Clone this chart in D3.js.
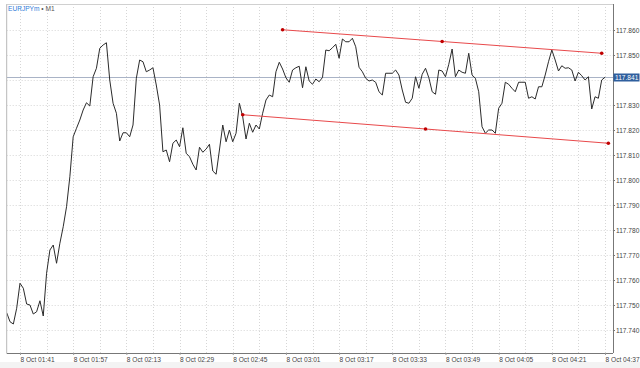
<!DOCTYPE html>
<html><head><meta charset="utf-8">
<script src="https://cdn.jsdelivr.net/npm/d3@7/dist/d3.min.js"></script>
<style>
html,body{margin:0;padding:0;background:#fff;}
svg{display:block;font-family:"Liberation Sans",Arial,sans-serif;}
</style></head>
<body><svg id="c" width="640" height="368"></svg>
<script>
// ---- data ----
const symbolName = "EURJPYm";
const timeframe = "M1";
const startTime = "2020-10-08 01:37"; // first one-minute bar
const closes = [
117.7469,117.7433,117.7424,117.7487,117.7587,117.7567,117.7504,117.7500,117.7464,117.7473,
117.7517,117.7456,117.7627,117.7720,117.7740,117.7667,117.7747,117.7813,117.7893,117.8013,
117.8173,117.8207,117.8240,117.8280,117.8309,117.8296,117.8413,117.8447,117.8527,117.8540,
117.8549,117.8400,117.8307,117.8267,117.8156,117.8189,117.8189,117.8173,117.8220,117.8407,
117.8480,117.8473,117.8433,117.8440,117.8449,117.8380,117.8300,117.8113,117.8120,117.8073,
117.8147,117.8160,117.8133,117.8209,117.8107,117.8093,117.8063,117.8040,117.8131,117.8111,
117.8124,117.8143,117.8036,117.8023,117.8120,117.8220,117.8153,117.8200,117.8153,117.8187,
117.8307,117.8253,117.8164,117.8227,117.8191,117.8220,117.8204,117.8267,117.8320,117.8340,
117.8333,117.8433,117.8471,117.8444,117.8409,117.8391,117.8440,117.8449,117.8455,117.8369,
117.8453,117.8396,117.8383,117.8404,117.8393,117.8410,117.8520,117.8517,117.8529,117.8543,
117.8487,117.8564,117.8553,117.8553,117.8567,117.8533,117.8451,117.8433,117.8407,117.8396,
117.8400,117.8391,117.8353,117.8340,117.8427,117.8427,117.8427,117.8440,117.8420,117.8360,
117.8311,117.8307,117.8327,117.8413,117.8367,117.8423,117.8447,117.8409,117.8353,117.8343,
117.8440,117.8436,117.8413,117.8463,117.8524,117.8413,117.8440,117.8431,117.8427,117.8507,
117.8420,117.8407,117.8353,117.8213,117.8187,117.8200,117.8200,117.8187,117.8287,117.8307,
117.8391,117.8383,117.8367,117.8353,117.8391,117.8391,117.8391,117.8327,117.8333,117.8324,
117.8373,117.8373,117.8420,117.8473,117.8520,117.8480,117.8436,117.8457,117.8447,117.8449,
117.8440,117.8396,117.8431,117.8417,117.8400,117.8413,117.8284,117.8333,117.8327,117.8400,
117.8411
];
const currentPrice = 117.841;
const priceTicks = [117.740,117.750,117.760,117.770,117.780,117.790,117.800,117.810,117.820,117.830,117.840,117.850,117.860];
const timeLabels = ["01:41","01:57","02:13","02:29","02:45","03:01","03:17","03:33","03:49","04:05","04:21","04:37"];
const trendUpper = [{time:"03:00",price:117.8601},{time:"04:36",price:117.8507}];
const trendLower = [{time:"02:48",price:117.8261},{time:"04:38",price:117.8147}];

// ---- layout ----
const W=640,H=368;
const plot={left:6.7,right:613,top:4,bottom:353};
const parse=d3.timeParse("%Y-%m-%d %H:%M");
const t0=parse(startTime);
const at=s=>parse("2020-10-08 "+s);
const series=closes.map((v,i)=>({t:d3.timeMinute.offset(t0,i),v}));

const x=d3.scaleTime().domain([t0,d3.timeSecond.offset(at("04:39"),24)]).range([plot.left,plot.right]);
const y=d3.scaleLinear().domain([117.740,117.860]).range([330,30]);

const svg=d3.select("#c");
svg.append("rect").attr("width",W).attr("height",H).attr("fill","#fff");
svg.append("rect").attr("x",0).attr("y",362).attr("width",W).attr("height",6).attr("fill","#f3f3f3");

svg.append("defs").append("clipPath").attr("id","clip").append("rect")
  .attr("x",plot.left).attr("y",plot.top).attr("width",plot.right-plot.left).attr("height",plot.bottom-plot.top);

// grid
const gridTimes=d3.range(0,23).map(k=>d3.timeMinute.offset(at("01:41"),8*k));
const g=svg.append("g").attr("clip-path","url(#clip)");
g.selectAll(".vg").data(gridTimes).join("line")
  .attr("x1",d=>Math.round(x(d))+0.5).attr("x2",d=>Math.round(x(d))+0.5)
  .attr("y1",plot.top).attr("y2",plot.bottom)
  .attr("stroke","#d6d6d6").attr("stroke-dasharray","1,2");
g.selectAll(".hg").data(priceTicks).join("line")
  .attr("x1",plot.left).attr("x2",plot.right)
  .attr("y1",d=>Math.round(y(d))+0.5).attr("y2",d=>Math.round(y(d))+0.5)
  .attr("stroke","#d6d6d6").attr("stroke-dasharray","1,2");

// current price line
g.append("line").attr("x1",plot.left).attr("x2",plot.right)
  .attr("y1",y(currentPrice)).attr("y2",y(currentPrice))
  .attr("stroke","#a9b3c6").attr("stroke-width",1);

// price line
g.append("path").datum(series)
  .attr("d",d3.line().x(d=>x(d.t)).y(d=>y(d.v)))
  .attr("fill","none").attr("stroke","#2b2b2b").attr("stroke-width",1);

// trend lines
[trendUpper,trendLower].forEach(tl=>{
  const pts=tl.map(p=>({t:at(p.time),v:p.price}));
  g.append("line").attr("x1",x(pts[0].t)).attr("y1",y(pts[0].v))
    .attr("x2",x(pts[1].t)).attr("y2",y(pts[1].v))
    .attr("stroke","#e8494b").attr("stroke-width",1);
  const mid={t:new Date((+pts[0].t + +pts[1].t)/2),v:(pts[0].v+pts[1].v)/2};
  g.selectAll(null).data([pts[0],mid,pts[1]]).join("circle")
    .attr("cx",d=>x(d.t)).attr("cy",d=>y(d.v)).attr("r",1.8).attr("fill","#c00000");
});

// frame
svg.append("line").attr("x1",plot.left).attr("x2",plot.left).attr("y1",plot.top).attr("y2",plot.bottom).attr("stroke","#b8b8b8");
svg.append("line").attr("x1",plot.left).attr("x2",plot.right).attr("y1",plot.top+0.5).attr("y2",plot.top+0.5).attr("stroke","#d0d0d0");

// right axis (the label hidden behind the current price tag is not drawn)
const labelTicks=priceTicks.filter(p=>Math.abs(y(p)-y(currentPrice))>6);
const ya=d3.axisRight(y).tickValues(labelTicks).tickFormat(d3.format(".3f")).tickSize(2).tickPadding(1);
const yg=svg.append("g").attr("transform",`translate(${plot.right},0)`).call(ya);
yg.select(".domain").attr("d",`M0.5,${plot.top}V${plot.bottom}`).attr("stroke","#777");
yg.selectAll("line").attr("stroke","#777");
yg.selectAll("text").attr("font-size","6.6px").attr("fill","#444").attr("font-family","Liberation Sans, Arial, sans-serif");

// bottom axis
const xa=d3.axisBottom(x).tickValues(timeLabels.map(at)).tickFormat(d3.timeFormat("%-d %b %H:%M")).tickSize(2).tickPadding(2);
const xg=svg.append("g").attr("transform",`translate(0,${plot.bottom})`).call(xa);
xg.select(".domain").attr("d",`M${plot.left},0.5H${plot.right}`).attr("stroke","#777");
xg.selectAll("line").attr("stroke","#999");
xg.selectAll("text").attr("font-size","6.6px").attr("fill","#444").attr("text-anchor","start")
  .attr("font-family","Liberation Sans, Arial, sans-serif");

// current price tag
const tag=svg.append("g").attr("transform",`translate(${plot.right},${y(currentPrice)})`);
tag.append("rect").attr("x",0.5).attr("y",-4).attr("width",26).attr("height",8).attr("fill","#2f5f9e");
tag.append("text").attr("x",2).attr("y",0).attr("dy","0.34em").attr("font-size","6.6px").attr("fill","#fff")
  .text(d3.format(".3f")(currentPrice));

// title
const tt=svg.append("text").attr("x",8).attr("y",9).attr("dy","0.34em").attr("font-size","6.6px");
tt.append("tspan").attr("fill","#2f7bd8").text(symbolName);
tt.append("tspan").attr("fill","#555").text(" \u2022 "+timeframe);
</script></body></html>
